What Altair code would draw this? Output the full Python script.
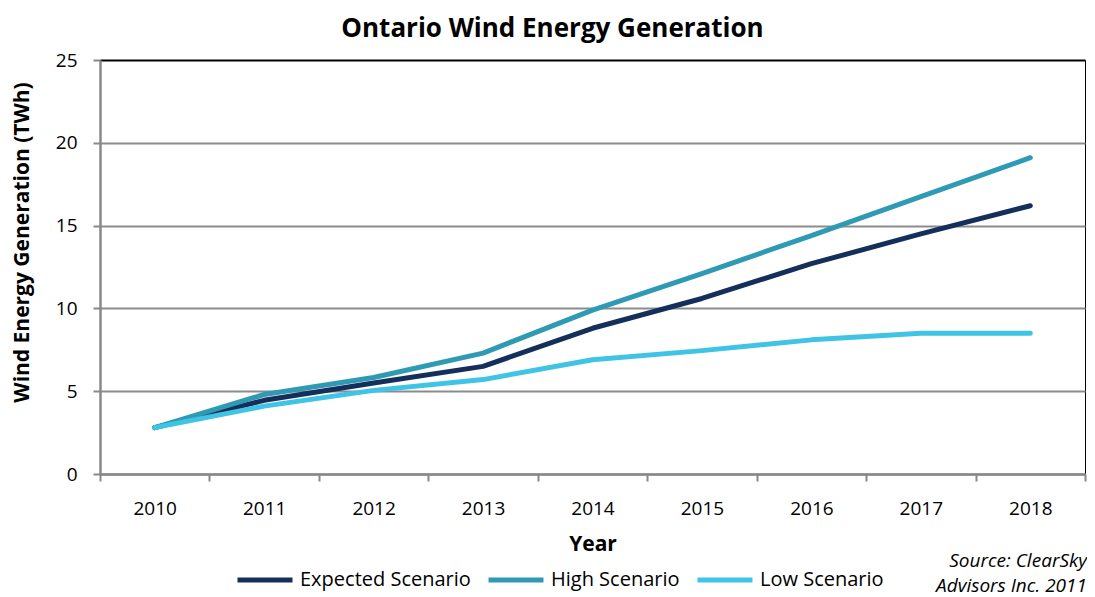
import altair as alt
import pandas as pd

years = ["2010", "2011", "2012", "2013", "2014", "2015", "2016", "2017", "2018"]
expected = [2.8, 4.45, 5.5, 6.5, 8.8, 10.6, 12.7, 14.5, 16.2]
high = [2.8, 4.8, 5.83, 7.3, 9.9, 12.1, 14.4, 16.75, 19.1]
low = [2.8, 4.1, 5.05, 5.7, 6.9, 7.45, 8.1, 8.5, 8.5]
series = ["Expected Scenario", "High Scenario", "Low Scenario"]
colors = ["#14305a", "#2f9ab4", "#40c4e6"]
y_ticks = [0, 5, 10, 15, 20, 25]
source_text = "Source: ClearSky\nAdvisors Inc. 2011"

rows = []
for name, vals in zip(series, [expected, high, low]):
    for yr, v in zip(years, vals):
        rows.append({"year": yr, "value": v, "scenario": name})
df = pd.DataFrame(rows)

FONT = "Open Sans"
W = 985
H = 414

lines = alt.Chart(df).mark_line(strokeWidth=5, strokeCap="round", strokeJoin="round").encode(
    x=alt.X(
        "year:O",
        sort=years,
        bandPosition=0.5,
        scale=alt.Scale(type="band", paddingInner=0, paddingOuter=0),
        axis=alt.Axis(
            title="Year",
            tickBand="extent",
            labelAngle=0,
            labelFontSize=19,
            labelColor="#000",
            labelPadding=18,
            tickSize=7,
            tickColor="#888",
            tickWidth=2,
            domainColor="#888",
            domainWidth=2.5,
            titleFontSize=21,
            titleFontWeight="bold",
            titleColor="#000",
            titlePadding=15,
            grid=False,
        ),
    ),
    y=alt.Y(
        "value:Q",
        scale=alt.Scale(domain=[0, 25], nice=False),
        axis=alt.Axis(
            values=y_ticks,
            title="Wind Energy Generation (TWh)",
            labelFontSize=19,
            labelColor="#000",
            labelPadding=16,
            tickSize=7,
            tickColor="#888",
            tickWidth=2,
            domainColor="#888",
            domainWidth=2.5,
            gridColor=alt.condition("datum.value == 25", alt.value("#000"), alt.value("#8c8c8c")),
            gridWidth=2,
            titleFontSize=21,
            titleFontWeight="bold",
            titleColor="#000",
            titleX=-68,
            titleY=182,
        ),
    ),
    color=alt.Color(
        "scenario:N",
        sort=series,
        scale=alt.Scale(domain=series, range=colors),
        legend=alt.Legend(
            title=None,
            orient="none",
            direction="horizontal",
            legendX=135,
            legendY=490,
            padding=0,
            symbolType="stroke",
            symbolStrokeWidth=5,
            symbolSize=3025,
            labelFontSize=20,
            labelColor="#000",
            labelOffset=5,
            labelLimit=400,
            columnPadding=7,
        ),
    ),
)

source = alt.Chart(pd.DataFrame({"t": [source_text]})).mark_text(
    align="right", baseline="middle", fontStyle="italic", fontSize=19, lineHeight=25,
    lineBreak="\n", color="#000", font=FONT,
).encode(text="t:N", x=alt.value(W + 2), y=alt.value(501))

chart = alt.layer(lines, source).properties(
    width=W,
    height=H,
    title=alt.TitleParams(
        "Ontario Wind Energy Generation",
        fontSize=26,
        fontWeight="bold",
        color="#000",
        anchor="middle",
        dx=-40,
        offset=9,
        font=FONT,
    ),
    autosize=alt.AutoSizeParams(type="none"),
    padding={"left": 92, "top": 52, "right": 2, "bottom": 123},
).configure(font=FONT).configure_view(stroke="#000", strokeWidth=1)

chart.save("out.html", embed_options={"renderer": "svg", "actions": False})
